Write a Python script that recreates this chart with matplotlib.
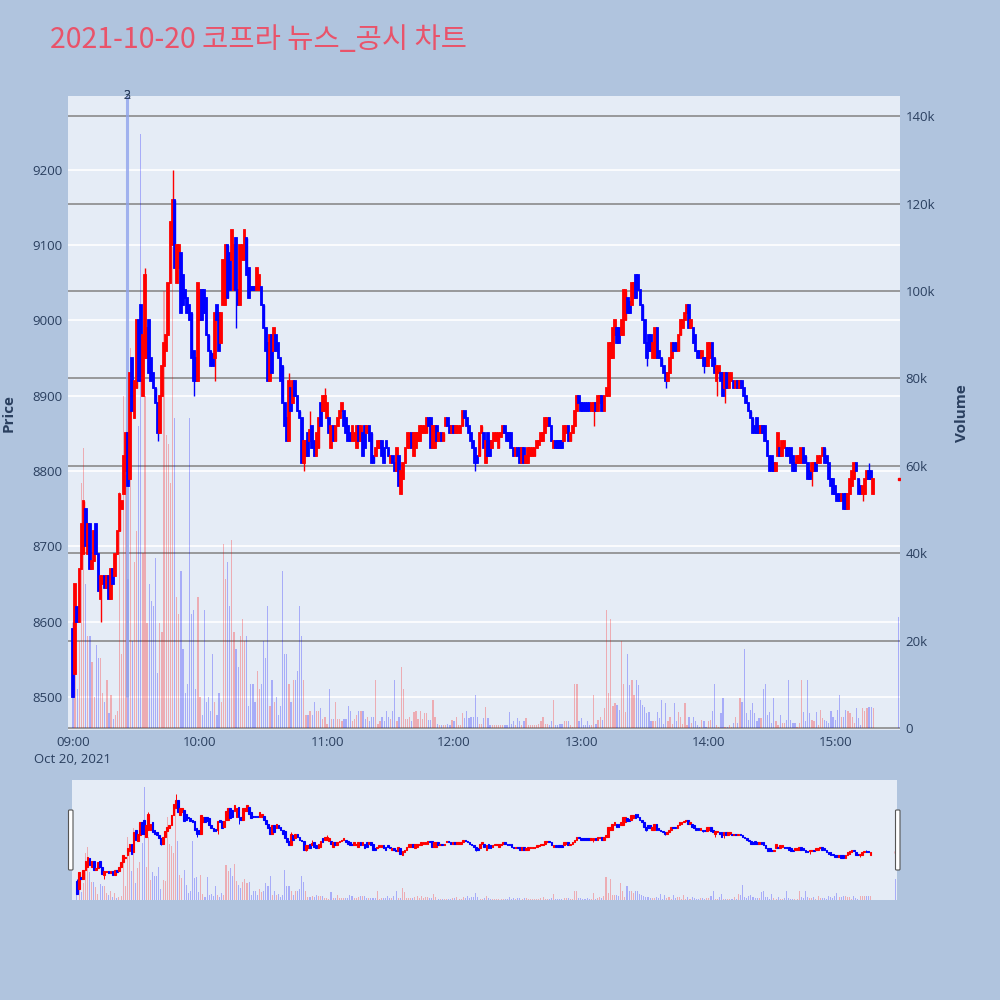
import matplotlib
matplotlib.use("Agg")
import matplotlib.pyplot as plt
import matplotlib.dates as mdates
import matplotlib.transforms as mtransforms
from matplotlib.patches import FancyBboxPatch
import numpy as np
import pandas as pd

plt.rcParams["font.family"] = ["Open Sans", "Noto Sans CJK KR", "DejaVu Sans"]

title = "2021-10-20 코프라 뉴스_공시 차트"

# one-minute candles, 09:00 .. 15:18
opens = [
    8590, 8530, 8620, 8600, 8670, 8690, 8750, 8690, 8730, 8670,
    8680, 8730, 8690, 8630, 8650, 8660, 8645, 8660, 8630, 8670,
    8660, 8690, 8720, 8750, 8770, 8800, 8850, 8790, 8950, 8870,
    8910, 9000, 9020, 8900, 8950, 8950, 9000, 8950, 8930, 8910,
    8890, 8850, 8900, 8940, 8960, 8980, 9050, 9100, 9160, 9050,
    9070, 9090, 9060, 9040, 9030, 9020, 9010, 8960, 8950, 8920,
    9000, 9040, 9040, 9030, 8980, 8960, 8955, 8950, 9020, 9010,
    8970, 9020, 9020, 9100, 9090, 9080, 9040, 9110, 9040, 9020,
    9080, 9080, 9110, 9070, 9045, 9045, 9045, 9040, 9040, 9045,
    9020, 8990, 8970, 8920, 8980, 8960, 8980, 8970, 8950, 8940,
    8890, 8870, 8840, 8910, 8890, 8920, 8900, 8880, 8870, 8810,
    8820, 8850, 8840, 8860, 8840, 8820, 8830, 8890, 8880, 8880,
    8870, 8870, 8830, 8860, 8840, 8860, 8870, 8880, 8880, 8870,
    8860, 8850, 8840, 8840, 8830, 8860, 8840, 8850, 8860, 8850,
    8860, 8850, 8820, 8820, 8830, 8830, 8840, 8830, 8840, 8830,
    8810, 8820, 8810, 8800, 8820, 8770, 8790, 8810, 8830, 8830,
    8850, 8820, 8830, 8840, 8840, 8850, 8850, 8850, 8870, 8870,
    8830, 8830, 8860, 8840, 8850, 8840, 8860, 8870, 8860, 8850,
    8860, 8850, 8850, 8850, 8860, 8880, 8870, 8860, 8850, 8840,
    8830, 8820, 8820, 8850, 8850, 8810, 8850, 8840, 8830, 8840,
    8840, 8830, 8845, 8850, 8860, 8850, 8850, 8850, 8830, 8820,
    8830, 8830, 8810, 8830, 8810, 8810, 8820, 8820, 8820, 8830,
    8835, 8840, 8840, 8850, 8860, 8870, 8860, 8830, 8840, 8840,
    8840, 8840, 8840, 8850, 8860, 8840, 8850, 8860, 8880, 8900,
    8890, 8890, 8890, 8890, 8890, 8880, 8880, 8890, 8880, 8890,
    8900, 8880, 8900, 8900, 8950, 8950, 8980, 8990, 8990, 8980,
    8980, 9000, 9030, 9025, 9020, 9030, 9060, 9060, 9040, 9020,
    9000, 8970, 8980, 8980, 8950, 8950, 8990, 8960, 8950, 8940,
    8930, 8920, 8930, 8950, 8970, 8970, 8960, 8980, 8990, 9000,
    9010, 9020, 8990, 8990, 8980, 8960, 8960, 8950, 8950, 8950,
    8940, 8950, 8970, 8950, 8920, 8930, 8930, 8930, 8910, 8930,
    8910, 8920, 8920, 8910, 8920, 8910, 8920, 8910, 8900, 8890,
    8880, 8870, 8860, 8870, 8860, 8850, 8860, 8860, 8840, 8820,
    8820, 8810, 8800, 8820, 8830, 8820, 8830, 8830, 8830, 8830,
    8820, 8810, 8810, 8810, 8810, 8830, 8820, 8810, 8800, 8800,
    8800, 8810, 8810, 8810, 8820, 8830, 8820, 8810, 8790, 8790,
    8780, 8770, 8770, 8760, 8770, 8770, 8750, 8770, 8780, 8790,
    8810, 8790, 8780, 8770, 8770, 8790, 8800, 8800, 8770,
]
closes = [
    8500, 8650, 8600, 8670, 8730, 8760, 8700, 8730, 8670, 8680,
    8720, 8690, 8640, 8660, 8660, 8645, 8660, 8630, 8670, 8650,
    8690, 8720, 8770, 8760, 8820, 8850, 8780, 8930, 8880, 8920,
    9000, 8920, 8920, 8980, 9060, 8990, 8930, 8920, 8910, 8890,
    8850, 8900, 8940, 8970, 8980, 9050, 9130, 9160, 9070, 9100,
    9100, 9010, 9020, 9030, 9010, 9000, 8950, 8920, 8920, 9050,
    9040, 9000, 9010, 8980, 8960, 8940, 8940, 9010, 9000, 8960,
    9010, 9080, 9100, 9030, 9040, 9120, 9100, 9040, 9020, 9100,
    9100, 9120, 9060, 9030, 9040, 9040, 9040, 9070, 9060, 9020,
    8990, 8960, 8920, 8980, 8930, 8990, 8960, 8950, 8920, 8890,
    8860, 8840, 8920, 8880, 8920, 8900, 8880, 8870, 8810, 8840,
    8840, 8820, 8855, 8830, 8820, 8850, 8870, 8860, 8900, 8900,
    8890, 8850, 8860, 8840, 8860, 8870, 8880, 8890, 8860, 8850,
    8840, 8840, 8860, 8850, 8860, 8840, 8860, 8820, 8830, 8860,
    8840, 8810, 8810, 8830, 8840, 8840, 8820, 8810, 8830, 8820,
    8820, 8810, 8800, 8830, 8780, 8800, 8810, 8830, 8850, 8850,
    8830, 8850, 8850, 8850, 8860, 8860, 8860, 8870, 8860, 8830,
    8860, 8860, 8840, 8850, 8840, 8850, 8870, 8860, 8850, 8860,
    8850, 8860, 8860, 8860, 8880, 8870, 8860, 8850, 8840, 8830,
    8810, 8810, 8850, 8860, 8830, 8840, 8820, 8820, 8840, 8850,
    8850, 8850, 8850, 8860, 8850, 8840, 8840, 8830, 8820, 8830,
    8820, 8810, 8830, 8810, 8820, 8830, 8830, 8830, 8830, 8840,
    8840, 8850, 8850, 8870, 8870, 8860, 8840, 8840, 8830, 8830,
    8830, 8830, 8860, 8860, 8840, 8850, 8860, 8880, 8900, 8890,
    8880, 8880, 8880, 8880, 8880, 8890, 8890, 8880, 8900, 8900,
    8880, 8900, 8910, 8970, 8970, 8990, 9000, 8970, 8970, 9000,
    9040, 9040, 9010, 9010, 9050, 9050, 9030, 9040, 9020, 9000,
    8970, 8950, 8960, 8960, 8970, 8990, 8950, 8950, 8940, 8930,
    8920, 8930, 8950, 8970, 8960, 8960, 8980, 9000, 9000, 9010,
    9020, 8990, 9000, 8970, 8960, 8950, 8950, 8960, 8940, 8940,
    8970, 8970, 8940, 8930, 8940, 8940, 8920, 8900, 8930, 8910,
    8930, 8930, 8910, 8920, 8910, 8920, 8910, 8900, 8890, 8880,
    8870, 8850, 8850, 8850, 8850, 8860, 8850, 8840, 8820, 8800,
    8800, 8800, 8810, 8850, 8820, 8840, 8840, 8820, 8820, 8810,
    8800, 8800, 8820, 8820, 8830, 8810, 8810, 8790, 8790, 8810,
    8810, 8800, 8820, 8820, 8830, 8810, 8810, 8790, 8780, 8770,
    8770, 8760, 8760, 8770, 8750, 8750, 8770, 8790, 8800, 8810,
    8800, 8770, 8770, 8780, 8790, 8800, 8790, 8790, 8790,
]
# wicks that reach beyond the body
high_idx = [0, 34, 47, 102, 112, 119, 376]
high_val = [8600, 9070, 9200, 8930, 8880, 8910, 8810]
low_idx = [13, 40, 57, 67, 77, 109, 190, 246, 271, 280, 298, 304, 308, 349, 373]
low_val = [8600, 8840, 8900, 8920, 8990, 8800, 8800, 8860, 8940, 8910, 8930, 8900, 8890, 8780, 8760]

# volume in thousands of shares
volumes = [
    9, 13, 9, 20, 56, 64, 33, 21, 21, 15,
    7, 19, 16, 16, 8, 6, 11, 3.5, 7.5, 2,
    3, 4, 54, 17, 76, 58, 34, 87, 20, 38,
    45, 69, 136, 40, 76, 24, 33, 29, 28, 39,
    12.5, 24, 22, 100, 67, 65, 56, 110, 71, 30,
    26, 36, 18, 8, 10, 71, 26, 27, 9, 30,
    7, 3, 27, 6, 7, 4, 17, 6, 3, 8,
    6, 42, 34, 38, 28, 43, 22, 18, 14, 21,
    25, 20, 21, 5, 10, 10, 6, 13, 9, 10,
    20, 16, 28, 5, 11, 6, 7, 3, 5, 36,
    17, 17, 10, 6, 11, 11, 13, 28, 21, 11,
    3, 3, 4, 3, 6, 4, 4, 4.5, 2, 2.5,
    1, 9, 2, 2, 6, 2, 2, 1.5, 2, 2,
    5, 4, 1.5, 2, 3, 4, 4, 4, 2, 2.5,
    1.5, 2.5, 2.5, 11, 1, 1.5, 2.5, 1.5, 4, 2.5,
    2, 4, 11, 1.5, 2.5, 14, 9, 2, 2, 2.5,
    1.5, 3.7, 4, 2, 4, 2, 3.4, 3.4, 1.8, 1.8,
    6.4, 2.6, 1, 0.8, 0.8, 0.7, 0.7, 1, 0.7, 1.8,
    1.5, 2.6, 0.7, 0.7, 3.4, 2.2, 4, 2.2, 2.6, 2.6,
    7.6, 2.6, 1, 1, 2.2, 4.9, 2.2, 0.7, 0.7, 0.7,
    0.7, 0.7, 0.7, 0.7, 0.7, 0.7, 3.7, 1, 1.5, 0.7,
    2.2, 1.5, 0.7, 1.5, 2.2, 0.7, 0.8, 0.8, 0.8, 0.8,
    1, 1.5, 2.6, 1, 1, 0.7, 1.5, 6.4, 0.7, 0.7,
    0.9, 1, 1.5, 1.5, 1.5, 0.7, 0.3, 10, 10, 1.5,
    2.2, 0.7, 0.7, 1.5, 0.7, 0.7, 7.6, 1, 1.8, 2.6,
    1.8, 4.5, 27, 8, 25, 5, 5.7, 5.3, 4.1, 20,
    10, 3.7, 17, 9.9, 11, 7.6, 11, 9.9, 6.4, 5.3,
    4.9, 3.4, 3.7, 1.5, 1.5, 1.5, 3.7, 2.2, 6.4, 1,
    5.7, 1.5, 2.6, 1, 5.7, 1.5, 3.7, 2.6, 1, 5.7,
    0.7, 2.6, 1.1, 2.6, 1.5, 0.7, 0.3, 1.8, 1.5, 0.3,
    1.5, 1.8, 3.8, 10, 0.7, 0.3, 3.4, 6.8, 0.3, 0.3,
    0.7, 0.3, 1.1, 2.6, 1.1, 6.8, 6, 18, 3.4, 1.8,
    4.1, 5.7, 3.4, 1.5, 2.2, 2.2, 9, 10, 3, 3.7,
    1.1, 6.8, 1.5, 0.7, 3, 1.1, 1.1, 1.8, 11, 1.8,
    1.1, 1.1, 0.3, 1.1, 11, 3.7, 1.5, 11, 3.4, 1.8,
    1.5, 3.7, 0.7, 4.2, 2.2, 1.8, 1.5, 1.1, 3.8, 2.6,
    1.8, 4.2, 7.5, 2.6, 2.6, 4.2, 3.8, 3.4, 2.6, 1.1,
    4.5, 2.2, 0.7, 4.5, 3.8, 4.5, 4.9, 4.9, 4.5,
]

# closing auction
close_time = "2021-10-20 15:30"
close_open, close_close, close_volume = 8790, 8790, 25.5

# news markers
news_time = "2021-10-20 09:25:40"
news_labels = ["2", "3"]

price_ticks = [8500, 8600, 8700, 8800, 8900, 9000, 9100, 9200]
volume_ticks = [0, 20, 40, 60, 80, 100, 120, 140]
hour_ticks = ["09:00", "10:00", "11:00", "12:00", "13:00", "14:00", "15:00"]

RED = "#ff0000"
BLUE = "#0000ff"
TXT = "#2a3f5f"
BG = "#e5ecf6"

times = pd.date_range("2021-10-20 09:00", periods=len(closes), freq="min")
x = mdates.date2num(times.to_pydatetime())
o = np.array(opens, float)
c = np.array(closes, float)
hi = np.maximum(o, c)
lo = np.minimum(o, c)
hi[high_idx] = high_val
lo[low_idx] = low_val
up = c >= o
cols = np.where(up, RED, BLUE)

xc = mdates.date2num(pd.Timestamp(close_time).to_pydatetime())
one_min = 1 / 1440
x0 = mdates.date2num(pd.Timestamp("2021-10-20 09:00").to_pydatetime())
xlim = (x0 - 2.36 * one_min, x0 + 390.6 * one_min)
plim = (8456, 9298)
vlim = (-0.45, 144.6)

fig = plt.figure(figsize=(10, 10), dpi=100, facecolor="#b0c4de")
fig.text(0.05, 0.96, title, fontsize=20.5, color="#e9536a", va="center", ha="left",
         family=["Noto Sans CJK KR", "DejaVu Sans"])


def draw(ax_v, ax_p, body_lw, wick_lw, vol_w):
    ax_v.bar(x, volumes, width=vol_w, color=cols, alpha=0.27, linewidth=0, zorder=2)
    ax_v.bar([xc], [close_volume], width=vol_w, color=BLUE, alpha=0.27, linewidth=0, zorder=2)
    ax_p.vlines(x, lo, hi, colors=cols, linewidth=wick_lw, zorder=3)
    ax_p.bar(x, np.abs(c - o), bottom=np.minimum(o, c), width=0.8 * one_min,
             color=cols, edgecolor=cols, linewidth=body_lw, zorder=4)
    ax_p.plot([xc], [close_close], marker="s", ms=1.5, color=RED, zorder=4)
    for a in (ax_v, ax_p):
        a.set_xlim(*xlim)
        for s in a.spines.values():
            s.set_visible(False)
    ax_p.set_ylim(*plim)
    ax_v.set_ylim(*vlim)


# main panel: volume axis underneath (right ticks), price axis on top (left ticks)
ax_v = fig.add_axes([0.068, 0.270, 0.832, 0.634])
ax_v.set_facecolor(BG)
ax_p = ax_v.twinx()
ax_p.patch.set_visible(False)
draw(ax_v, ax_p, 1.3, 1.0, 0.6 * one_min)

ax_v.yaxis.tick_right()
ax_v.yaxis.set_label_position("right")
ax_v.set_yticks(volume_ticks)
ax_v.set_yticklabels([("%dk" % v) if v else "0" for v in volume_ticks])
ax_v.grid(axis="y", color="#8a8a8a", linewidth=1.2, zorder=0)
ax_v.set_axisbelow(True)
blend = mtransforms.blended_transform_factory(ax_v.transAxes, ax_p.transData)
for p in price_ticks:
    ax_v.plot([0, 1], [p, p], transform=blend, color="white", linewidth=1.2, zorder=1)

ax_p.yaxis.tick_left()
ax_p.yaxis.set_label_position("left")
ax_p.set_yticks(price_ticks)
ax_p.set_yticklabels([str(p) for p in price_ticks])

tick_x = [x0 + 60 * i * one_min for i in range(len(hour_ticks))]
ax_v.set_xticks(tick_x)
ax_v.set_xticklabels([hour_ticks[0] + "\nOct 20, 2021"] + hour_ticks[1:], linespacing=1.45)
for lab in ax_v.get_xticklabels()[:1]:
    lab.set_multialignment("center")

for a in (ax_v, ax_p):
    a.tick_params(length=0, labelsize=9.5, labelcolor=TXT, pad=4)
ax_p.set_ylabel("Price", fontsize=11, color=TXT, fontweight="bold", labelpad=12)
ax_v.set_ylabel("Volume", fontsize=11, color=TXT, fontweight="bold", labelpad=14)

# news line and labels
xn = mdates.date2num(pd.Timestamp(news_time).to_pydatetime())
ax_p.vlines([xn], 8500, plim[1], colors="#8fa3ec", linewidth=2.2, alpha=0.8, zorder=2.5)
for lbl in news_labels:
    ax_p.text(xn, plim[1], lbl, ha="center", va="center", fontsize=9, color=TXT, clip_on=False)

# range slider
ax_sv = fig.add_axes([0.072, 0.100, 0.825, 0.120])
ax_sv.set_facecolor(BG)
ax_sp = ax_sv.twinx()
ax_sp.patch.set_visible(False)
draw(ax_sv, ax_sp, 0.8, 0.7, 0.5 * one_min)
for a in (ax_sv, ax_sp):
    a.set_xticks([])
    a.set_yticks([])

for hx in (0.0685, 0.8955):
    fig.patches.append(FancyBboxPatch((hx, 0.130), 0.0045, 0.06, boxstyle="round,pad=0,rounding_size=0.001",
                                      transform=fig.transFigure, facecolor="white",
                                      edgecolor="#555555", linewidth=0.8, zorder=5))

fig.savefig("out.png", dpi=100, facecolor=fig.get_facecolor())
